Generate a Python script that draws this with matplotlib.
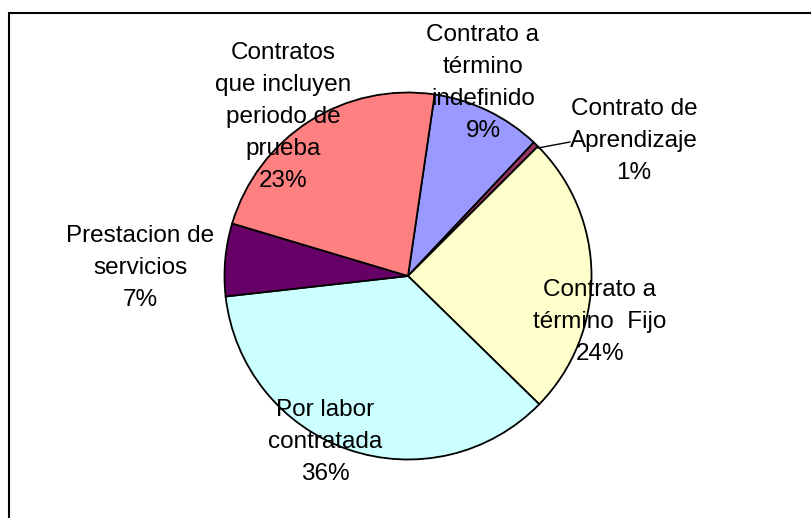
import matplotlib
matplotlib.use("Agg")
import matplotlib.pyplot as plt
from matplotlib.patches import Rectangle
from matplotlib.lines import Line2D

plt.rcParams['font.family'] = ['Liberation Sans', 'DejaVu Sans']

# slices, clockwise from the top
names = ["Contrato a\ntérmino\nindefinido", "Contrato de\nAprendizaje",
         "Contrato a\ntérmino  Fijo", "Por labor\ncontratada",
         "Prestacion de\nservicios", "Contratos\nque incluyen\nperiodo de\nprueba"]
values = [9.7, 0.5, 24.8, 35.9, 6.4, 22.7]
pct_labels = ["9%", "1%", "24%", "36%", "7%", "23%"]
colors = ["#9999FF", "#993366", "#FFFFCC", "#CCFFFF", "#660066", "#FF8080"]

W, H = 812, 518
cx, cy, r = 408, 276, 183.5   # pie centre and radius in pixels

fig = plt.figure(figsize=(W / 100, H / 100), dpi=100)
ax = fig.add_axes([0, 0, 1, 1])
ax.pie(values, colors=colors, startangle=81.65, counterclock=False,
       wedgeprops=dict(edgecolor="black", linewidth=1.3))
ax.set_xlim(-cx / r, (W - cx) / r)
ax.set_ylim(-(H - cy) / r, cy / r)
ax.set_aspect("equal")
ax.axis("off")

# label block centres (pixels)
label_pos = [(483, 83), (634, 141), (600, 322), (325, 442), (140, 268), (283, 117)]
for name, pct, (px, py) in zip(names, pct_labels, label_pos):
    fig.text(px / W, 1 - py / H, name + "\n" + pct, ha="center", va="center",
             fontsize=17.5, linespacing=1.58, color="black")

# leader line for the small slice
fig.add_artist(Line2D([538 / W, 570 / W], [1 - 148 / H, 1 - 142 / H],
                      color="black", lw=1, transform=fig.transFigure))

# chart area frame
fig.add_artist(Rectangle((9 / W, -0.1), 1.2, 1.1 - 13 / H, fill=False,
                         edgecolor="black", lw=1.5, transform=fig.transFigure))

fig.savefig("out.png", dpi=100)
